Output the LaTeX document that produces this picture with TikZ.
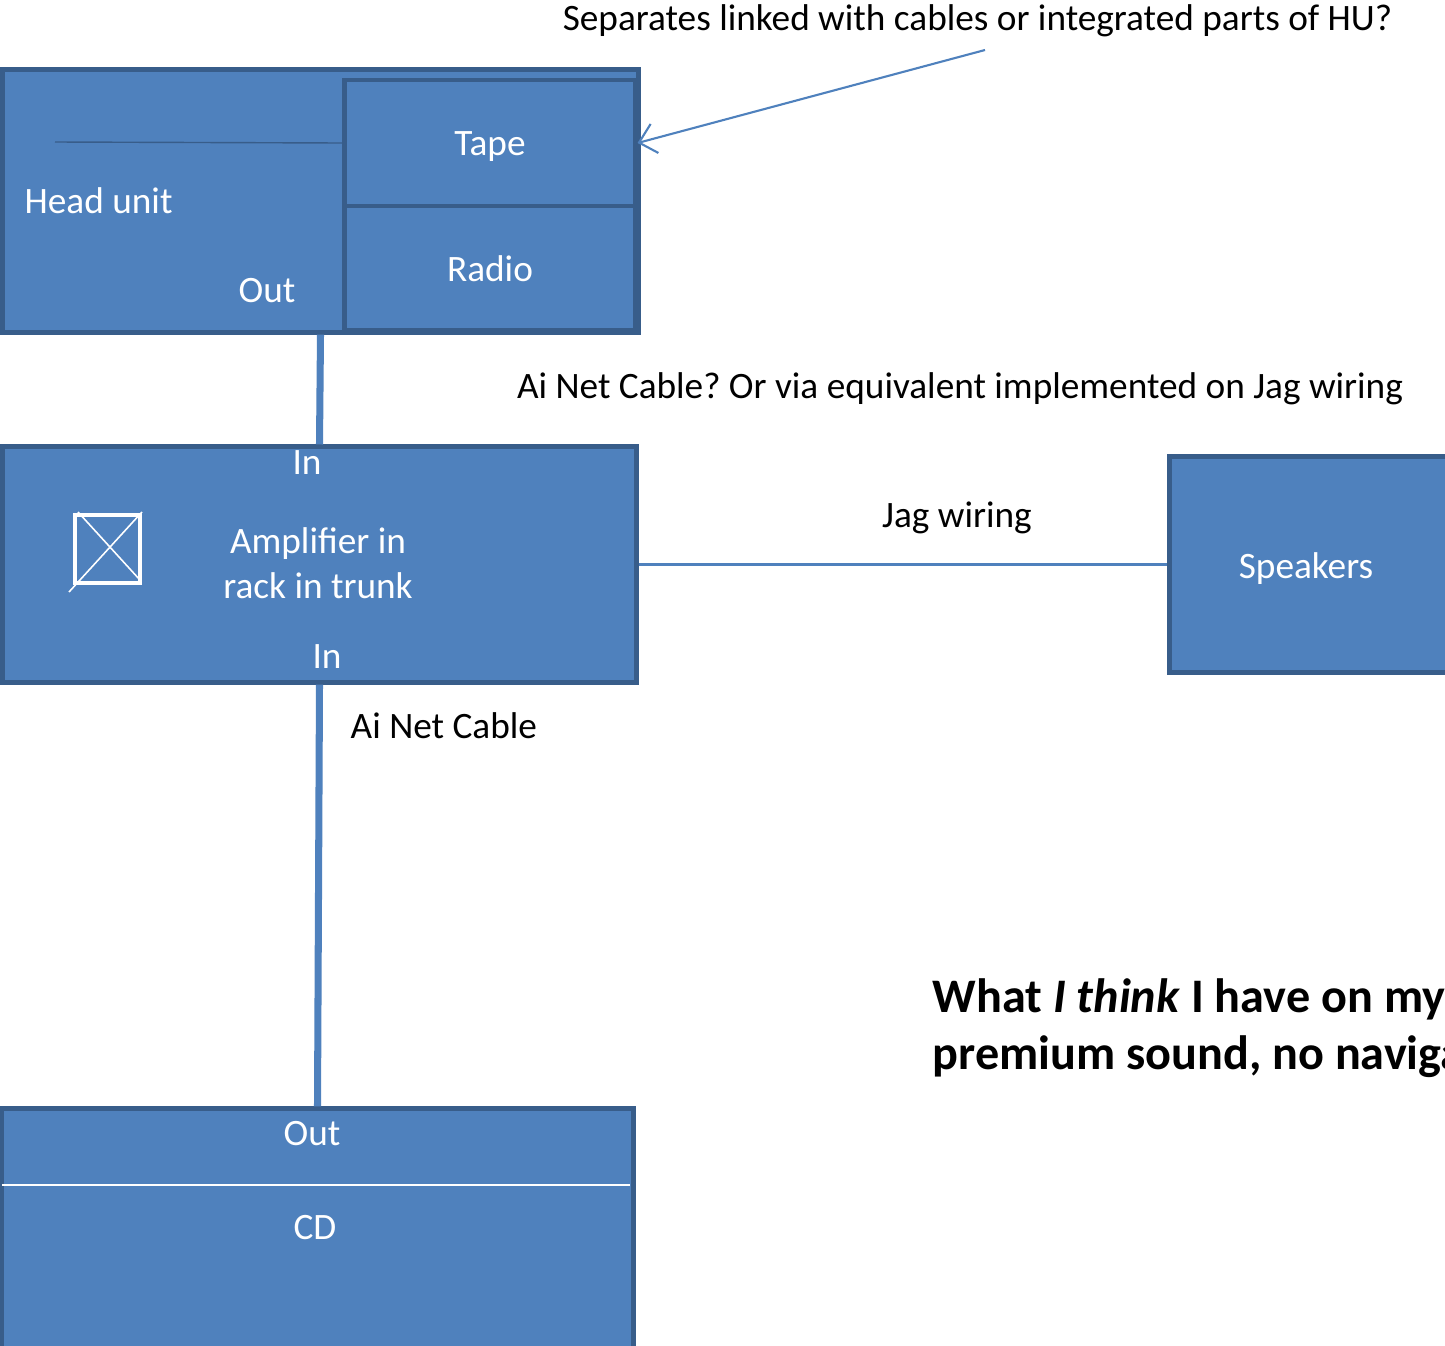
\documentclass[tikz,border=0pt]{standalone}
\usepackage{fontspec}
\setmainfont{Carlito}
\usetikzlibrary{arrows.meta}
\definecolor{boxfill}{HTML}{4F81BD}
\definecolor{boxline}{HTML}{385D8A}
\frenchspacing

\begin{document}
\begin{tikzpicture}[x=0.01cm, y=-0.01cm,
    font=\fontsize{10.6}{12.5}\selectfont,
    unitbox/.style={draw=boxline, fill=boxfill, line width=1.4pt, inner sep=0pt},
    wlabel/.style={text=white, anchor=base, inner sep=0pt},
    blabel/.style={text=black, anchor=base, inner sep=0pt},
    cable/.style={draw=boxfill, line width=2pt},
    wire/.style={draw=boxfill, line width=0.6pt}]
    \path[use as bounding box] (0,0) rectangle (1445,1345);
    \clip (0,0) rectangle (1445,1345);

    % head unit
    \node[unitbox, minimum width=6.35cm, minimum height=2.62cm] (hu) at (320.5,201) {};
    \node[unitbox, minimum width=2.9cm, minimum height=1.26cm] (tape) at (490,143) {};
    \node[unitbox, minimum width=2.9cm, minimum height=1.24cm] (radio) at (490,268) {};
    \draw[boxline, line width=0.4pt] (55,142) -- (tape.west);
    \node[wlabel, anchor=base west] (hulbl) at (24,213) {Head unit};
    \node[wlabel] (huout) at (267,302) {Out};
    \node[wlabel] (tapelbl) at (490,155) {Tape};
    \node[wlabel] (radiolbl) at (490,281) {Radio};

    % amplifier
    \node[unitbox, minimum width=6.33cm, minimum height=2.35cm] (amp) at (319.5,564.5) {};
    \node[wlabel] (ampin1) at (307,474) {In};
    \node[wlabel] (amplbl1) at (318,553) {Amplifier in};
    \node[wlabel] (amplbl2) at (318,598) {rack in trunk};
    \node[wlabel] (ampin2) at (327,668) {In};
    \draw[white, line width=1.1pt] (75,515) rectangle (140,583);
    \draw[white, line width=0.45pt] (69,592) -- (142,512) (78,512) -- (140,580);

    % speakers
    \node[unitbox, minimum width=2.9cm, minimum height=2.15cm] (spk) at (1315,564.5) {};
    \node[wlabel] (spklbl) at (1306,578) {Speakers};

    % cd
    \node[unitbox, minimum width=6.31cm, minimum height=2.6cm] (cd) at (317.5,1239) {};
    \draw[white, line width=0.4pt] (2,1185) -- (630,1185);
    \node[wlabel] (cdout) at (312,1145) {Out};
    \node[wlabel] (cdlbl) at (315,1239) {CD};

    % connections
    \draw[cable] (hu.south) -- (amp.north);
    \draw[cable] (amp.south) -- (cd.north);
    \draw[wire] (amp.east) -- (spk.west);
    \coordinate (q) at (985,50);
    \draw[wire, -{Straight Barb[length=1.6mm, width=3mm]}] (q) -- (tape.east);

    % notes
    \node[blabel] (qlbl) at (977.5,30) {Separates linked with cables or integrated parts of HU?};
    \node[blabel] (netlbl) at (960,398) {Ai Net Cable? Or via equivalent implemented on Jag wiring};
    \node[blabel] (jaglbl) at (957,527) {Jag wiring};
    \node[blabel, anchor=base west] (ailbl) at (350,738) {Ai Net Cable};
    \node[blabel, anchor=base west, font=\fontsize{13.7}{16.5}\selectfont\bfseries] (note1) at (932,1012) {What \textit{I think} I have on my};
    \node[blabel, anchor=base west, font=\fontsize{13.7}{16.5}\selectfont\bfseries] (note2) at (932,1069) {premium sound, no navigation};
\end{tikzpicture}
\end{document}
